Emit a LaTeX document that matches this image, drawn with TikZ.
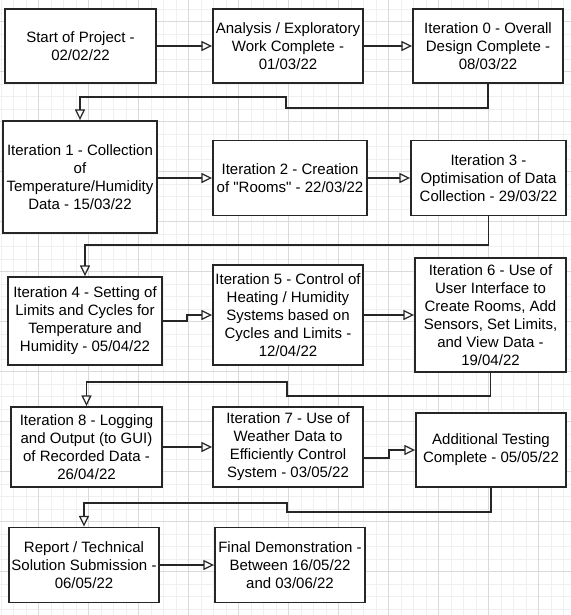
\documentclass[tikz,border=0pt]{standalone}
\usepackage{xcolor}
\usepackage{fontspec}
\setmainfont{Liberation Sans}
\usepackage{tikz}
\usetikzlibrary{arrows.meta}

\definecolor{minorgrid}{HTML}{F0F0F0}
\definecolor{majorgrid}{HTML}{DADADA}
\definecolor{boxline}{HTML}{262626}

\tikzset{
  stage/.style={draw=boxline, line width=1.4pt, fill=white, align=center,
    inner sep=0pt, font=\fontsize{11.25}{13.5}\selectfont},
  link/.style={line width=1.4pt, draw=boxline},
  >={Triangle[open, length=8pt, width=7.5pt, line width=0.9pt]}
}

\begin{document}
\begin{tikzpicture}[x=0.75pt, y=-0.75pt]
      \useasboundingbox (0, 0) rectangle (571, 615);
      \fill[white] (0, 0) rectangle (571, 615);
      % grid
      \foreach \gx in {1, 13.5, ..., 571} \draw[minorgrid, line width=0.75pt] (\gx, 0) -- (\gx, 615);
      \foreach \gy in {9, 21.5, ..., 615} \draw[minorgrid, line width=0.75pt] (0, \gy) -- (571, \gy);
      \foreach \gx in {38.5, 88.5, ..., 571} \draw[majorgrid, line width=0.75pt] (\gx, 0) -- (\gx, 615);
      \foreach \gy in {21.5, 71.5, ..., 615} \draw[majorgrid, line width=0.75pt] (0, \gy) -- (571, \gy);

      \node[stage, minimum width=113.25pt, minimum height=55.5pt] (Start) at (80.5, 46) {Start of Project -\\02/02/22};
      \node[stage, minimum width=112.5pt, minimum height=55.5pt] (Analysis) at (288, 46) {Analysis / Exploratory\\Work Complete -\\01/03/22};
      \node[stage, minimum width=112.5pt, minimum height=55.5pt] (It0) at (488, 46) {Iteration 0 - Overall\\Design Complete -\\08/03/22};

      \node[stage, minimum width=115.5pt, minimum height=84pt] (It1) at (80, 177) {Iteration 1 - Collection\\of\\Temperature/Humidity\\Data - 15/03/22};
      \node[stage, minimum width=115.5pt, minimum height=56.25pt] (It2) at (290, 178) {Iteration 2 - Creation\\of \textquotedbl Rooms\textquotedbl{} - 22/03/22};
      \node[stage, minimum width=116.25pt, minimum height=56.25pt] (It3) at (488.5, 178) {Iteration 3 -\\Optimisation of Data\\Collection - 29/03/22};

      \node[stage, minimum width=115.5pt, minimum height=66pt] (It4) at (85, 321) {Iteration 4 - Setting of\\Limits and Cycles for\\Temperature and\\Humidity - 05/04/22};
      \node[stage, minimum width=112.5pt, minimum height=75pt] (It5) at (288, 315) {Iteration 5 - Control of\\Heating / Humidity\\Systems based on\\Cycles and Limits -\\12/04/22};
      \node[stage, minimum width=113.25pt, minimum height=85.5pt] (It6) at (490.5, 315) {Iteration 6 - Use of\\User Interface to\\Create Rooms, Add\\Sensors, Set Limits,\\and View Data -\\19/04/22};

      \node[stage, minimum width=113.25pt, minimum height=60pt] (It8) at (86.5, 447) {Iteration 8 - Logging\\and Output (to GUI)\\of Recorded Data -\\26/04/22};
      \node[stage, minimum width=112.5pt, minimum height=60pt] (It7) at (288, 447) {Iteration 7 - Use of\\Weather Data to\\Efficiently Control\\System - 03/05/22};
      \node[stage, minimum width=112.5pt, minimum height=55.5pt] (Testing) at (491, 450) {Additional Testing\\Complete - 05/05/22};

      \node[stage, minimum width=112.5pt, minimum height=56.25pt] (Report) at (84, 565) {Report / Technical\\Solution Submission -\\06/05/22};
      \node[stage, minimum width=112.5pt, minimum height=56.25pt] (Final) at (290, 565) {Final Demonstration -\\Between 16/05/22\\and 03/06/22};

      \coordinate (K1) at (286, 108);
      \coordinate (K2) at (80, 97);
      \coordinate (K3) at (85, 245);
      \coordinate (K4) at (187, 318);
      \coordinate (K5) at (287, 396);
      \coordinate (K6) at (86.5, 382);
      \coordinate (K7) at (389, 458);
      \coordinate (K8) at (287, 512);
      \coordinate (K9) at (84, 503);

      \draw[link, ->] (Start) -- (Analysis);
      \draw[link, ->] (Analysis) -- (It0);
      \draw[link, ->] (It0.south) |- (K1) |- (K2) -- (It1.north);
      \draw[link, ->] (It1.east |- It2.west) -- (It2.west);
      \draw[link, ->] (It2) -- (It3);
      \draw[link, ->] (It3.south) |- (K3) -- (It4.north);
      \draw[link, ->] (It4.east) -| (K4) |- (It5.west);
      \draw[link, ->] (It5) -- (It6);
      \draw[link, ->] (It6.south) |- (K5) |- (K6) -- (It8.north);
      \draw[link, ->] (It8) -- (It7);
      \draw[link, ->] (K7 -| It7.east) -- (K7) |- (Testing.west);
      \draw[link, ->] (Testing.south) |- (K8) |- (K9) -- (Report.north);
      \draw[link, ->] (Report) -- (Final);
    \end{tikzpicture}
\end{document}
